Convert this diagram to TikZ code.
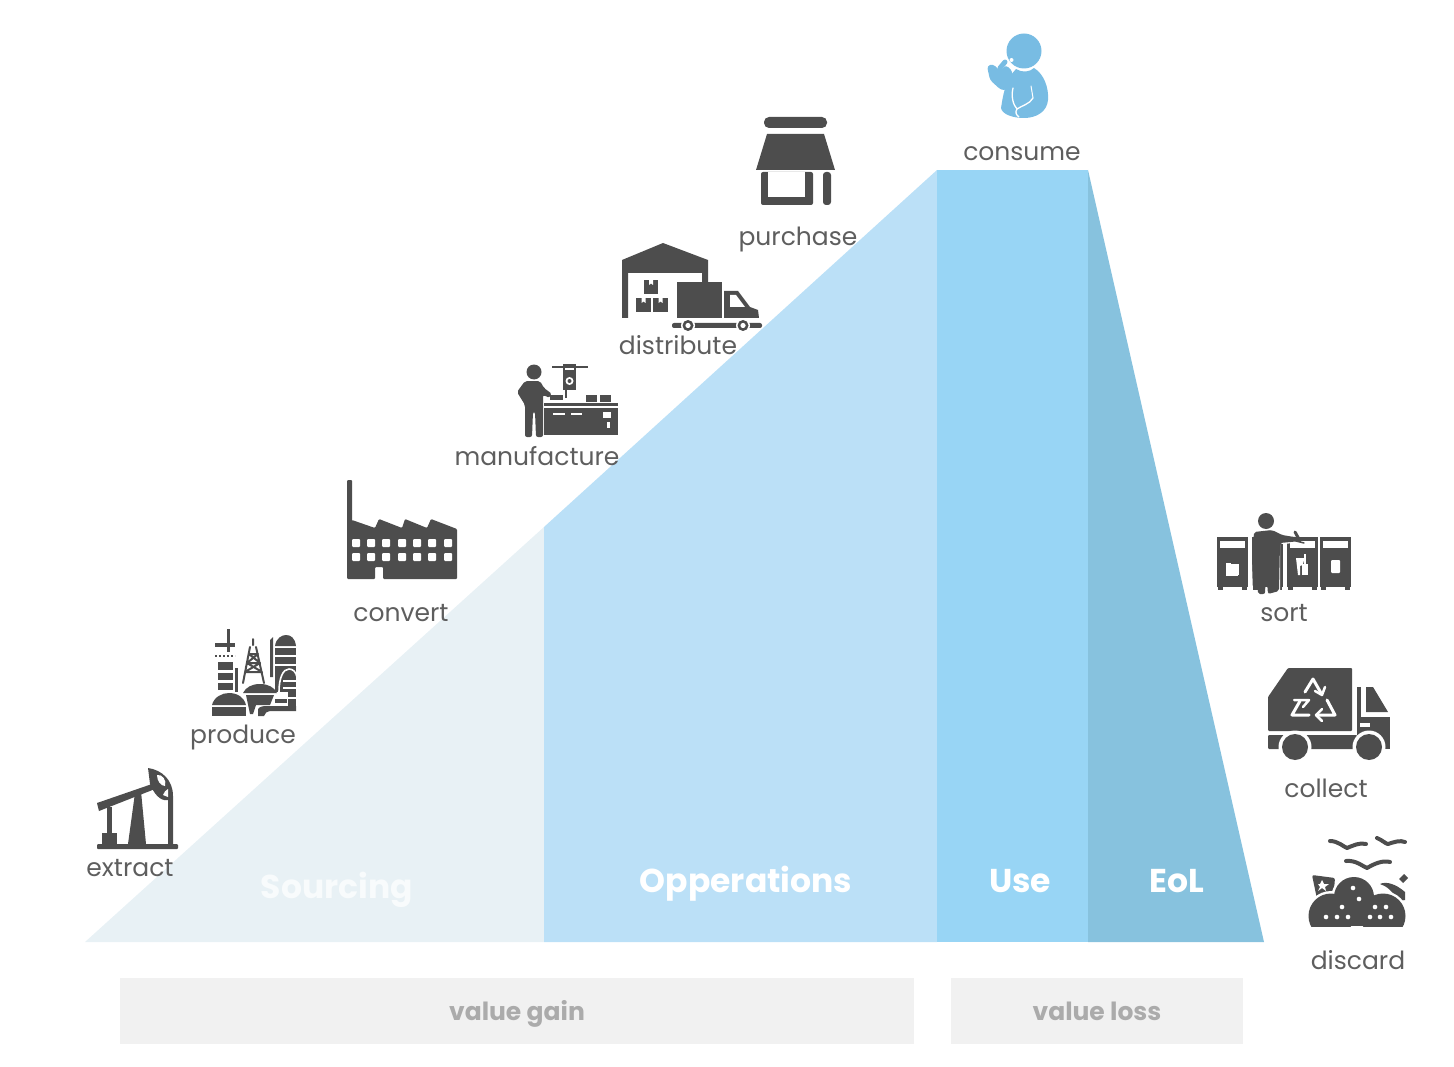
\documentclass[tikz,border=0pt]{standalone}
\usepackage{fontspec}
\setmainfont{Poppins}
\definecolor{icon}{HTML}{4D4D4D}
\definecolor{lab}{HTML}{5E5E5E}
\definecolor{src}{HTML}{E8F1F5}
\definecolor{ops}{HTML}{BBE0F7}
\definecolor{use}{HTML}{98D5F5}
\definecolor{eol}{HTML}{87C2DE}
\definecolor{bar}{HTML}{F1F1F1}
\definecolor{bartxt}{HTML}{ABABAB}
\definecolor{cons}{HTML}{78BCE3}
\tikzset{
 ic/.style={fill=icon,draw=none},
 cut/.style={fill=white,draw=none},
 cutl/.style={draw=white,line cap=round,line join=round},
 icl/.style={draw=icon,line cap=round,line join=round},
 stepname/.style={text=lab,font=\fontsize{25}{28}\selectfont,inner sep=0pt,anchor=base},
 phase/.style={text=white,font=\fontsize{33}{36}\selectfont\bfseries,inner sep=0pt,anchor=base},
 barbox/.style={fill=bar,draw=none,minimum height=66pt,inner sep=0pt},
 bartext/.style={text=bartxt,font=\fontsize{25}{28}\selectfont\bfseries,inner sep=0pt,anchor=base},
}
\begin{document}
\begin{tikzpicture}[x=1pt,y=-1pt]
\useasboundingbox (0,0) rectangle (1454,1067);
% ---- mountain
\fill[src] (85,942) -- (544,527) -- (544,942) -- cycle;
\fill[ops] (544,527) -- (937,170) -- (937,942) -- (544,942) -- cycle;
\fill[use] (937,170) -- (1088,170) -- (1088,942) -- (937,942) -- cycle;
\fill[eol] (1088,170) -- (1264,942) -- (1088,942) -- cycle;
\node[phase,text=white!70!src] (sourcing) at (337,898) {Sourcing};
\node[phase] (operations) at (746,892) {Opperations};
\node[phase] (usephase) at (1020,892) {Use};
\node[phase] (eolphase) at (1177,892) {EoL};
% ---- bars
\node[barbox,minimum width=794pt] (gain) at (517,1011) {};
\node[barbox,minimum width=292pt] (loss) at (1097,1011) {};
\node[bartext] (gaintext) at (517,1020) {value gain};
\node[bartext] (losstext) at (1097,1020) {value loss};
% ---- labels
\node[stepname] (extract) at (130,876) {extract};
\node[stepname] (produce) at (243,743) {produce};
\node[stepname] (convert) at (401,621) {convert};
\node[stepname] (manufacture) at (537,465) {manufacture};
\node[stepname] (distribute) at (678,354) {distribute};
\node[stepname] (purchase) at (798,246) {purchase};
\node[stepname] (consume) at (1022,161) {consume};
\node[stepname] (sort) at (1284,621) {sort};
\node[stepname] (collect) at (1326,797) {collect};
\node[stepname] (discard) at (1358,969) {discard};
% ---- extract: pumpjack
\fill[ic,rounded corners=1pt] (97,844) rectangle (178,849);
\fill[ic] (102,833) rectangle (117,844);
\fill[ic] (107,807) rectangle (112,834);
\fill[ic] (128,844) -- (135,793) -- (141,791) -- (146,844) -- cycle;
\fill[ic] (97,803) -- (152,784) -- (155,789) -- (99,811) -- cycle;
\fill[ic] (148,768) .. controls (162,770) and (173,780) .. (173,796) -- (173,844) -- (168,844) -- (168,800) .. controls (160,802) and (153,792) .. (150,784) -- cycle;
\fill[cut] (157,775) .. controls (162,774) and (167,780) .. (165,786) .. controls (161,786) and (157,781) .. (157,775) -- cycle;
\fill[cut] (168,789) -- (168,797) -- (163,795) .. controls (164,792) and (166,790) .. (168,789) -- cycle;
% ---- produce: refinery
\fill[ic] (227,629) rectangle (229.5,652);
\fill[ic] (215,643) rectangle (235,646.5);
\draw[icl,line width=2pt,dotted,line cap=butt] (215,656) -- (235,656);
\fill[ic] (218,662) rectangle (233,670);
\fill[ic] (218,673) rectangle (233,680);
\fill[ic] (218,683) rectangle (233,690);
\fill[ic] (212,705) .. controls (214,697) and (222,693) .. (229,693) .. controls (237,693) and (244,697) .. (246,705) -- cycle;
\fill[ic] (212,707) rectangle (246,716);
\fill[ic] (235,668) rectangle (237.5,692);
\draw[icl,line width=2pt] (253,639) -- (253,645) (250,647) -- (243,683) (256,647) -- (264,683) (249,654) -- (258,654) (247,663) -- (260,663) (245,672) -- (262,672) (249,654) -- (260,663) (258,654) -- (247,663) (247,663) -- (262,672) (260,663) -- (245,672);
\fill[ic] (243,693) .. controls (246,687) and (252,684) .. (260,684) .. controls (268,684) and (274,687) .. (277,693) -- cycle;
\fill[ic] (246,695) -- (274,695) -- (270,705) -- (256,705) -- (253,714) -- (250,714) -- cycle;
\fill[ic] (270,640) -- (273,637) -- (273,677) -- (270,677) -- cycle;
\fill[ic] (275,646) .. controls (276,638) and (282,635) .. (286,635) .. controls (291,635) and (295,638) .. (296,646) -- cycle;
\fill[ic] (275,648) rectangle (296,655);
\fill[ic] (275,657) rectangle (296,664);
\fill[ic] (275,666) rectangle (296,692);
\draw[cutl,line width=1.6pt,line cap=butt] (279,692) .. controls (279,678) and (283,669) .. (289,669) .. controls (293,669) and (296,672) .. (297,677);
\fill[cut] (283,680) rectangle (297,682);
\fill[cut] (283,687) rectangle (297,689);
\fill[ic] (288,692) rectangle (296,706);
\fill[cut] (288,697) rectangle (296,698.5);
\fill[ic] (275,699) rectangle (287,703);
\fill[ic] (258,709) .. controls (260,706) and (264,706) .. (268,706) -- (296,706) -- (296,711) -- (270,711) .. controls (267,711) and (265,713) .. (264,716) -- (258,716) -- cycle;
% ---- convert: factory
\fill[ic,rounded corners=1pt] (347,480) rectangle (352,530);
\fill[ic,rounded corners=1pt] (347,579) -- (347,522) -- (352,520) -- (375,528) -- (379,519) -- (402,528) -- (405,519) -- (427,528) -- (431,519) -- (457,529) -- (457,579) -- (383,579) -- (383,567) -- (375,567) -- (375,579) -- cycle;
\foreach \wx in {356,371,386,402,417,432,448}{
  \fill[cut,rounded corners=1pt] (\wx-4,539) rectangle (\wx+4,547);
  \fill[cut,rounded corners=1pt] (\wx-4,553) rectangle (\wx+4,561);
}
% ---- manufacture
\fill[ic] (534,372) circle (7.5);
\fill[ic,rounded corners=2pt] (525,381) -- (540,381) -- (544,388) -- (552,394) -- (550,398) -- (543,395) -- (543,437) -- (536,437) -- (535,412) -- (533,412) -- (532,437) -- (525,437) -- (525,405) -- (517,392) -- cycle;
\fill[ic] (544,403) rectangle (618,406);
\fill[ic] (544,408) rectangle (618,435);
\fill[cut] (553,413) rectangle (565,414.5);
\fill[cut] (571,413) rectangle (582,414.5);
\fill[cut] (603,412) rectangle (611,418);
\fill[cut] (607,422) rectangle (610,428);
\fill[ic] (563,364) rectangle (576,390);
\fill[cut] (569.5,381) circle (4);
\fill[ic] (569.5,381) circle (2);
\fill[cut] (565,368) rectangle (574,370);
\fill[ic] (552,366) rectangle (588,367.5);
\fill[ic] (565,390) rectangle (567,398);
\fill[ic] (550,395) rectangle (563,400);
\fill[ic] (586,395) rectangle (597,402);
\fill[ic] (600,395) rectangle (611,402);
% ---- distribute
\fill[ic] (622,260) -- (663,243) -- (708,260) -- (708,282) -- (702,282) -- (702,273) -- (628,273) -- (628,318) -- (622,318) -- cycle;
\fill[ic] (644,280) rectangle (658,294);
\fill[ic] (636,298) rectangle (651,312);
\fill[ic] (653,298) rectangle (668,312);
\foreach \bx/\by in {651/280,643.5/298,660.5/298}{\fill[cut] (\bx-2,\by) -- (\bx+2,\by) -- (\bx+2,\by+5) -- (\bx,\by+3.5) -- (\bx-2,\by+5) -- cycle;}
\fill[ic] (677,282) rectangle (722,318);
\fill[ic] (724,291) -- (738,291) -- (750,307) -- (758,310) -- (759,318) -- (724,318) -- cycle;
\fill[cut] (730,295) -- (736,295) -- (745,307) -- (730,307) -- cycle;
\fill[ic,rounded corners=2pt] (672,323) rectangle (762,328);
\foreach \wx in {688,743}{\fill[cut] (\wx,325.5) circle (7); \fill[ic] (\wx,325.5) circle (5.5); \fill[cut] (\wx,325.5) circle (2.6);}
% ---- purchase
\fill[ic,rounded corners=5pt] (764,117) rectangle (827,128);
\fill[ic] (767,134) -- (824,134) -- (835,170) -- (756,170) -- cycle;
\fill[ic,rounded corners=2pt] (761,172) rectangle (813,205);
\fill[cut] (768,172) rectangle (805,197);
\fill[ic,rounded corners=3pt] (823,172) rectangle (831,205);
% ---- consume
\fill[cons] (1024,51) circle (17.5);
\fill[cons] (1016,69) .. controls (1022,73) and (1030,72) .. (1034,68) .. controls (1044,74) and (1049,88) .. (1048,100) .. controls (1047,112) and (1036,118) .. (1024,118) .. controls (1012,118) and (1002,114) .. (1001,108) .. controls (1003,96) and (1005,80) .. (1016,69) -- cycle;
\fill[cons,rounded corners=3pt] (987,66) -- (993,64) -- (1000,71) -- (1006,65) -- (1013,72) -- (1007,90) -- (1001,90) -- (990,80) -- cycle;
\draw[cons,line width=5pt,line cap=round] (1000,68) -- (1005,62);
\fill[cut] (1011.5,60) circle (2);
\draw[cutl,line width=1.3pt] (1013,88) .. controls (1011,96) and (1013,105) .. (1017,109) .. controls (1021,106) and (1030,104) .. (1033,98) (1017,109) .. controls (1015,112) and (1016,115) .. (1019,117);
\draw[cutl,line width=1pt] (1033,98) -- (1031,86);
% ---- sort
\foreach \bx in {1217,1252,1287,1320}{
  \fill[ic] (\bx,537) rectangle (\bx+31,587);
  \fill[cut] (\bx+3,541) rectangle (\bx+28,548);
  \fill[ic] (\bx+1,587) rectangle (\bx+6,590);
  \fill[ic] (\bx+25,587) rectangle (\bx+30,590);
}
\fill[cut] (1226,563) rectangle (1238,576);
\fill[ic] (1231,561) rectangle (1240,574);
\fill[cut] (1229,564) rectangle (1239,575);
\fill[cut] (1296,558) -- (1298,575) -- (1300,575) -- (1300,566) .. controls (1303,566) and (1304,562) .. (1304,558) -- cycle;
\fill[cut] (1302,575) rectangle (1308,564);
\fill[cut] (1304,564) rectangle (1306,554);
\fill[cut,rounded corners=1pt] (1331,560) rectangle (1340,573);
\draw[cutl,line width=2pt] (1252,593) -- (1250,537) -- (1262,530) (1279,593) -- (1279,543) -- (1298,542);
\fill[ic] (1266,521) circle (8);
\fill[ic,rounded corners=2pt] (1254,532) -- (1272,530) -- (1282,535) -- (1294,537) -- (1301,537) -- (1301,541) -- (1280,543) -- (1279,591) -- (1268,594) -- (1266,570) -- (1265,594) -- (1258,594) -- (1256,565) -- (1252,562) -- cycle;
\draw[icl,line width=3pt] (1295,532) -- (1300,541);
\draw[icl,line width=1.5pt] (1296,541) -- (1304,543);
% ---- collect
\fill[ic,rounded corners=1pt] (1288,668) -- (1352,668) -- (1352,731) -- (1268,731) -- (1268,697) -- cycle;
\draw[cutl,line width=3pt] (1305,692) -- (1313,679) -- (1321,693);
\draw[cutl,line width=2.5pt] (1315,691) -- (1322,695) -- (1325,687);
\draw[cutl,line width=3pt] (1327,700) -- (1335,715) -- (1316,715);
\draw[cutl,line width=2.5pt] (1322,709) -- (1316,715) -- (1322,721);
\draw[cutl,line width=3pt] (1309,715) -- (1292,715) -- (1300,701);
\draw[cutl,line width=2.5pt] (1294,700) -- (1309,700) -- (1303,707);
\fill[ic] (1366,687) -- (1373,687) -- (1388,712) -- (1366,712) -- cycle;
\fill[ic] (1357,687) rectangle (1361,717);
\fill[ic] (1357,717) -- (1390,717) -- (1390,749) -- (1357,749) -- cycle;
\fill[ic,rounded corners=1pt] (1268,735) rectangle (1357,749);
\fill[cut] (1360,723) rectangle (1370,727);
\fill[cut] (1295,747) circle (16.5);
\fill[cut] (1369,747) circle (16.5);
\fill[ic] (1295,747) circle (13);
\fill[ic] (1369,747) circle (13);
% ---- discard
\fill[ic,rounded corners=2pt] (1312,875) -- (1335,878) -- (1334,890) -- (1317,899) -- cycle;
\fill[cut] (1322,880) -- (1324,884) -- (1329,884) -- (1325,887) -- (1326,891) -- (1322,888) -- (1318,891) -- (1320,887) -- (1318,884) -- (1320,884) -- cycle;
\fill[ic] (1380,884) .. controls (1386,881) and (1396,884) .. (1405,892) -- (1405,900) -- (1398,901) .. controls (1392,890) and (1386,886) .. (1380,884) -- cycle;
\fill[ic] (1399,879) -- (1404,874) -- (1408,878) -- (1403,883) -- cycle;
\begin{scope}
 \clip (1300,870) rectangle (1410,926);
 \fill[cut] (1354,897) circle (22.5);
 \fill[cut] (1331,916) circle (25);
 \fill[cut] (1383,916) circle (25);
 \fill[ic] (1354,897) circle (20);
 \fill[ic] (1331,916) circle (22.5);
 \fill[ic] (1383,916) circle (22.5);
 \fill[ic] (1340,900) rectangle (1370,926);
\end{scope}
\foreach \dx/\dy in {1353/888,1359/899,1342/907,1375/907,1386/907,1326/917,1337/917,1348/917,1370/917,1380/917,1391/917}{\fill[cut] (\dx,\dy) circle (2.3);}
\draw[icl,line width=4pt] (1330,841) .. controls (1338,841) and (1344,847) .. (1347,848) .. controls (1352,846) and (1360,842) .. (1366,844);
\draw[icl,line width=4pt] (1377,838) .. controls (1382,840) and (1386,844) .. (1388,844) .. controls (1394,842) and (1400,840) .. (1405,842);
\draw[icl,line width=4pt] (1346,861) .. controls (1356,860) and (1362,866) .. (1367,868) .. controls (1374,864) and (1382,860) .. (1390,862);
\end{tikzpicture}
\end{document}
